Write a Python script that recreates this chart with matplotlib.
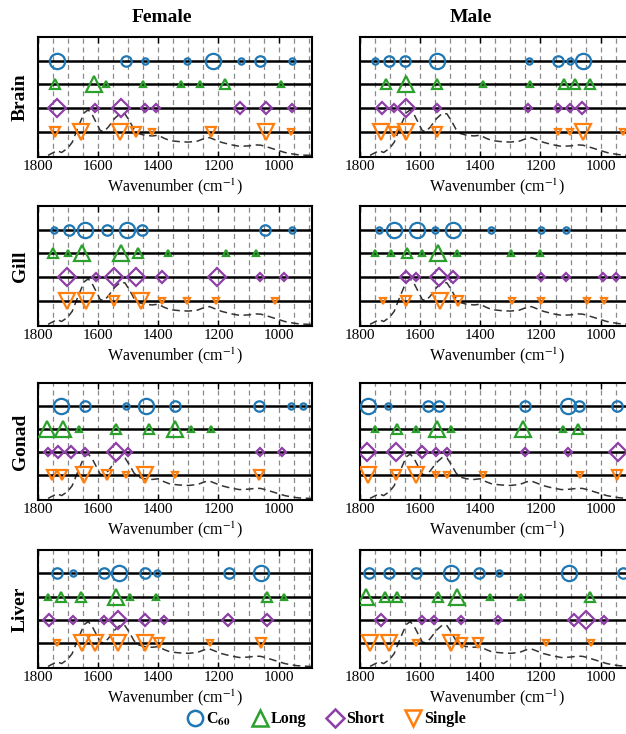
# Положение пиков по тканям: C60, Long, Short, Single
import numpy as np
import matplotlib.pyplot as plt
from matplotlib.lines import Line2D

plt.rcParams['font.family'] = ['Liberation Serif', 'DejaVu Serif']
plt.rcParams['mathtext.fontset'] = 'stix'

series_names = [r'C$_{\mathbf{60}}$', 'Long', 'Short', 'Single']
series_colors = ['#1f77b4', '#2ca02c', '#8e3fa8', '#ff7f0e']
series_markers = ['o', '^', 'D', 'v']
tissues = ['Brain', 'Gill', 'Gonad', 'Liver']
sexes = ['Female', 'Male']

# волновые числа (строки: C60, Long, Short, Single) и уровень значимости 1..3
brain_female_wn = [[1734, 1505, 1445, 1306, 1217, 1127, 1064, 956],
                   [1742, 1614, 1573, 1449, 1325, 1261, 1177, 994],
                   [1734, 1611, 1523, 1444, 1406, 1128, 1042, 956],
                   [1742, 1656, 1525, 1475, 1419, 1225, 1042, 958]]
brain_female_lv = [[3, 2, 1, 1, 3, 1, 2, 1],
                   [2, 3, 1, 1, 1, 1, 2, 1],
                   [3, 1, 3, 1, 1, 2, 2, 1],
                   [2, 3, 3, 2, 1, 2, 3, 1]]
brain_male_wn = [[1748, 1702, 1648, 1542, 1237, 1143, 1101, 1060],
                 [1712, 1645, 1542, 1389, 1234, 1121, 1084, 1036],
                 [1726, 1687, 1645, 1542, 1243, 1143, 1101, 1062],
                 [1729, 1687, 1645, 1542, 1143, 1101, 1060, 927]]
brain_male_lv = [[1, 2, 2, 3, 1, 2, 1, 3],
                 [2, 3, 2, 1, 1, 2, 2, 2],
                 [2, 1, 3, 1, 1, 1, 1, 2],
                 [3, 2, 3, 2, 1, 1, 3, 1]]
gill_female_wn = [[1745, 1695, 1642, 1569, 1503, 1455, 1045, 956],
                  [1747, 1699, 1651, 1523, 1467, 1367, 1175, 1075],
                  [1703, 1606, 1547, 1475, 1387, 1205, 1062, 983],
                  [1703, 1640, 1545, 1458, 1387, 1306, 1208, 1014]]
gill_female_lv = [[1, 2, 3, 2, 3, 2, 2, 1],
                  [2, 1, 3, 3, 2, 1, 1, 1],
                  [3, 1, 3, 3, 2, 3, 1, 1],
                  [3, 3, 2, 3, 1, 1, 1, 1]]
gill_male_wn = [[1737, 1685, 1609, 1549, 1491, 1363, 1198, 1115],
                [1748, 1695, 1643, 1593, 1540, 1476, 1298, 1201],
                [1645, 1612, 1537, 1489, 1198, 1117, 993, 950],
                [1723, 1645, 1534, 1474, 1293, 1198, 1046, 991]]
gill_male_lv = [[1, 3, 3, 1, 3, 1, 1, 1],
                [1, 1, 2, 1, 3, 1, 1, 1],
                [2, 1, 3, 2, 1, 1, 1, 1],
                [1, 2, 3, 2, 1, 1, 1, 1]]
gonad_female_wn = [[1722, 1642, 1508, 1439, 1345, 1067, 958, 919],
                   [1769, 1717, 1663, 1539, 1431, 1345, 1292, 1225],
                   [1766, 1731, 1688, 1642, 1539, 1500, 1064, 989],
                   [1753, 1719, 1645, 1569, 1506, 1444, 1345, 1066]]
gonad_female_lv = [[3, 2, 1, 3, 2, 2, 1, 1],
                   [3, 3, 1, 2, 2, 3, 1, 1],
                   [1, 2, 2, 1, 3, 1, 1, 1],
                   [2, 2, 3, 2, 1, 3, 1, 2]]
gonad_male_wn = [[1773, 1704, 1574, 1535, 1252, 1110, 1073, 946],
                 [1748, 1676, 1612, 1543, 1498, 1259, 1126, 1076],
                 [1776, 1678, 1593, 1548, 1509, 1252, 1110, 943],
                 [1771, 1678, 1613, 1548, 1509, 1389, 1070, 945]]
gonad_male_lv = [[3, 1, 2, 2, 2, 3, 2, 2],
                 [1, 2, 1, 3, 1, 3, 1, 2],
                 [3, 3, 2, 1, 1, 1, 1, 3],
                 [3, 2, 3, 1, 1, 1, 1, 2]]
liver_female_wn = [[1734, 1681, 1581, 1531, 1445, 1403, 1164, 1058],
                   [1764, 1723, 1655, 1539, 1492, 1408, 1038, 983],
                   [1761, 1681, 1581, 1534, 1445, 1381, 1167, 1038],
                   [1736, 1653, 1611, 1534, 1442, 1397, 1228, 1058]]
liver_female_lv = [[2, 1, 2, 3, 2, 1, 2, 3],
                   [1, 2, 2, 3, 1, 1, 2, 1],
                   [2, 1, 1, 3, 2, 1, 2, 2],
                   [1, 3, 3, 3, 3, 2, 1, 2]]
liver_male_wn = [[1767, 1701, 1612, 1498, 1404, 1337, 1104, 928],
                 [1779, 1717, 1676, 1541, 1478, 1368, 1265, 1037],
                 [1728, 1593, 1554, 1465, 1341, 1090, 1048, 991],
                 [1765, 1702, 1612, 1498, 1459, 1407, 1181, 1034]]
liver_male_lv = [[2, 2, 2, 3, 2, 1, 3, 2],
                 [3, 2, 2, 2, 3, 1, 1, 2],
                 [2, 1, 1, 1, 1, 2, 3, 1],
                 [3, 3, 1, 3, 2, 2, 1, 1]]

# средний спектр (пунктир на фоне)
spec_wn = [1765, 1750, 1735, 1720, 1700, 1685, 1665, 1645, 1632, 1620, 1608,
           1592, 1580, 1565, 1545, 1525, 1510, 1495, 1480, 1465, 1445, 1420,
           1400, 1380, 1360, 1330, 1300, 1270, 1245, 1230, 1210, 1190, 1160,
           1130, 1100, 1075, 1060, 1045, 1025, 1000, 980, 960, 940, 920, 900,
           885]
spec_y = [0.0, 0.1, 0.2, 0.12, 0.3, 0.55, 1.2, 1.8, 1.92, 1.75, 1.45,
          1.05, 1.0, 1.2, 1.55, 1.78, 1.75, 1.45, 1.1, 0.92, 0.85, 0.82,
          0.85, 0.72, 0.62, 0.58, 0.56, 0.6, 0.72, 0.75, 0.65, 0.55, 0.45,
          0.38, 0.4, 0.44, 0.43, 0.38, 0.3, 0.2, 0.12, 0.07, 0.03, 0.01, 0.0,
          0.0]

panels = {
    ('Brain', 'Female'): (brain_female_wn, brain_female_lv),
    ('Brain', 'Male'): (brain_male_wn, brain_male_lv),
    ('Gill', 'Female'): (gill_female_wn, gill_female_lv),
    ('Gill', 'Male'): (gill_male_wn, gill_male_lv),
    ('Gonad', 'Female'): (gonad_female_wn, gonad_female_lv),
    ('Gonad', 'Male'): (gonad_male_wn, gonad_male_lv),
    ('Liver', 'Female'): (liver_female_wn, liver_female_lv),
    ('Liver', 'Male'): (liver_male_wn, liver_male_lv),
}

W, H = 626, 734
fig = plt.figure(figsize=(W / 100, H / 100), dpi=100)

col_px = [(37.5, 312), (359.5, 634)]
row_px = [(37, 157), (206, 326), (383, 500), (550, 668)]
level_ms = {1: 4.5, 2: 7.5, 3: 11}
shape_scale = {'o': 1.0, '^': 1.0, 'D': 0.8, 'v': 1.0}

for r, tissue in enumerate(tissues):
    top, bottom = row_px[r]
    for c, sex in enumerate(sexes):
        x0, x1 = col_px[c]
        ax = fig.add_axes([x0 / W, 1 - bottom / H, (x1 - x0) / W, (bottom - top) / H])
        wn, lv = panels[(tissue, sex)]

        ax.plot(spec_wn, spec_y, color='#333333', lw=1.1, ls=(0, (5, 3)), zorder=1)
        for k in range(4):
            yk = 4 - k
            ax.axhline(yk, color='black', lw=1.8, zorder=2)
            m = series_markers[k]
            for w, l in zip(wn[k], lv[k]):
                ax.plot(w, yk, marker=m, ms=level_ms[l] * shape_scale[m],
                        mfc='none', mec=series_colors[k], mew=1.6, zorder=3)

        ax.set_xlim(1800, 890)
        ax.set_ylim(-0.07, 5)
        ax.set_yticks([])
        ax.set_xticks([1800, 1600, 1400, 1200, 1000])
        ax.set_xticks(np.arange(900, 1800, 50), minor=True)
        ax.grid(which='both', axis='x', ls=(0, (4, 3)), color='#8a8a8a', lw=0.9)
        ax.set_axisbelow(True)
        ax.tick_params(which='major', direction='in', top=True, length=4,
                       width=1, labelsize=11, pad=2)
        ax.tick_params(which='minor', length=0)
        for s in ax.spines.values():
            s.set_linewidth(1.5)
        ax.set_xlabel('Wavenumber (cm$^{-1}$)', fontsize=11.5, labelpad=3)

    fig.text(20 / W, 1 - (top + bottom) / 2 / H, tissue, rotation=90,
             ha='center', va='center', fontsize=14, fontweight='bold')

fig.text(162 / W, 1 - 17 / H, 'Female', ha='center', va='center',
         fontsize=14, fontweight='bold')
fig.text(471 / W, 1 - 17 / H, 'Male', ha='center', va='center',
         fontsize=14, fontweight='bold')

handles = [Line2D([], [], ls='none', marker=series_markers[k],
                  ms=11 * shape_scale[series_markers[k]], mfc='none',
                  mec=series_colors[k], mew=1.8, label=series_names[k])
           for k in range(4)]
fig.legend(handles=handles, loc='center', bbox_to_anchor=(326 / W, 1 - 719 / H),
           ncol=4, frameon=False, handletextpad=0.1, columnspacing=1.2,
           handlelength=1.2, prop={'weight': 'bold', 'size': 11.5})

fig.savefig('out.png', dpi=100)
